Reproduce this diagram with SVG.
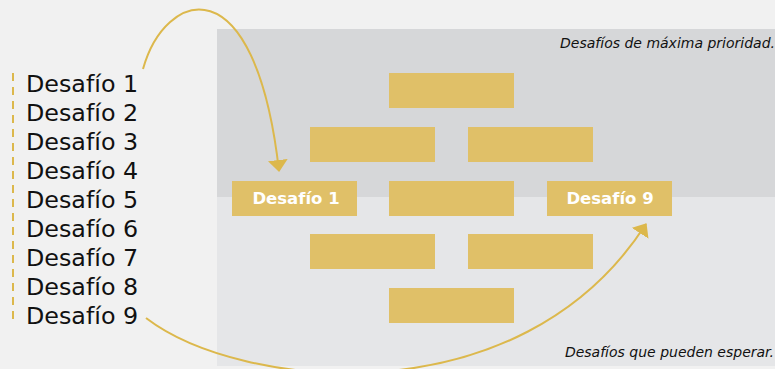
<svg xmlns="http://www.w3.org/2000/svg" width="775" height="369" viewBox="0 0 775 369">
<defs>
<style>
.box{fill:#e0c068}
.lst{font-family:"DejaVu Sans",Verdana,sans-serif;font-size:23.8px;fill:#111}
.bl{font-family:"DejaVu Sans",Verdana,sans-serif;font-size:16.5px;font-weight:bold;fill:#fff;text-anchor:middle}
.it{font-family:"DejaVu Sans",Verdana,sans-serif;font-size:14px;font-style:italic;fill:#111;text-anchor:end}
.con{fill:none;stroke:#dcb84c;stroke-width:2}
</style>
<marker id="ah" viewBox="0 0 12 20" refX="11" refY="10" markerWidth="12" markerHeight="20" markerUnits="userSpaceOnUse" orient="auto">
<path d="M0,0 L12,10 L0,20 Z" fill="#dcb84c"/>
</marker>
</defs>
<rect width="775" height="369" fill="#f1f1f1"/>
<rect x="217" y="29" width="558" height="168" fill="#d6d7d9"/>
<rect x="217" y="197" width="558" height="169" fill="#e5e6e8"/>
<text class="it" x="775" y="48">Desafíos de máxima prioridad.</text>
<text class="it" x="774" y="357">Desafíos que pueden esperar.</text>
<g id="list">
<line x1="13" y1="73" x2="13" y2="323" stroke="#dcb84c" stroke-width="2" stroke-dasharray="8,6"/>
<text class="lst" x="26" y="92">Desafío 1</text>
<text class="lst" x="26" y="121">Desafío 2</text>
<text class="lst" x="26" y="150">Desafío 3</text>
<text class="lst" x="26" y="179">Desafío 4</text>
<text class="lst" x="26" y="208">Desafío 5</text>
<text class="lst" x="26" y="237">Desafío 6</text>
<text class="lst" x="26" y="266">Desafío 7</text>
<text class="lst" x="26" y="295">Desafío 8</text>
<text class="lst" x="26" y="324">Desafío 9</text>
</g>
<g id="b1"><rect class="box" x="389" y="73" width="125" height="35"/></g>
<g id="b2"><rect class="box" x="310" y="127" width="125" height="35"/></g>
<g id="b3"><rect class="box" x="468" y="127" width="125" height="35"/></g>
<g id="b4"><rect class="box" x="232" y="181" width="125" height="35"/><text class="bl" x="296" y="204">Desafío 1</text></g>
<g id="b5"><rect class="box" x="389" y="181" width="125" height="35"/></g>
<g id="b6"><rect class="box" x="547" y="181" width="125" height="35"/><text class="bl" x="610" y="204">Desafío 9</text></g>
<g id="b7"><rect class="box" x="310" y="234" width="125" height="35"/></g>
<g id="b8"><rect class="box" x="468" y="234" width="125" height="35"/></g>
<g id="b9"><rect class="box" x="389" y="288" width="125" height="35"/></g>
<g id="connectors">
<path class="con" d="M143,69 C165,-10 255,-40 279,171" marker-end="url(#ah)"/>
<path class="con" d="M146,318 C240,390 520,420 646,224" marker-end="url(#ah)"/>
</g>
</svg>
